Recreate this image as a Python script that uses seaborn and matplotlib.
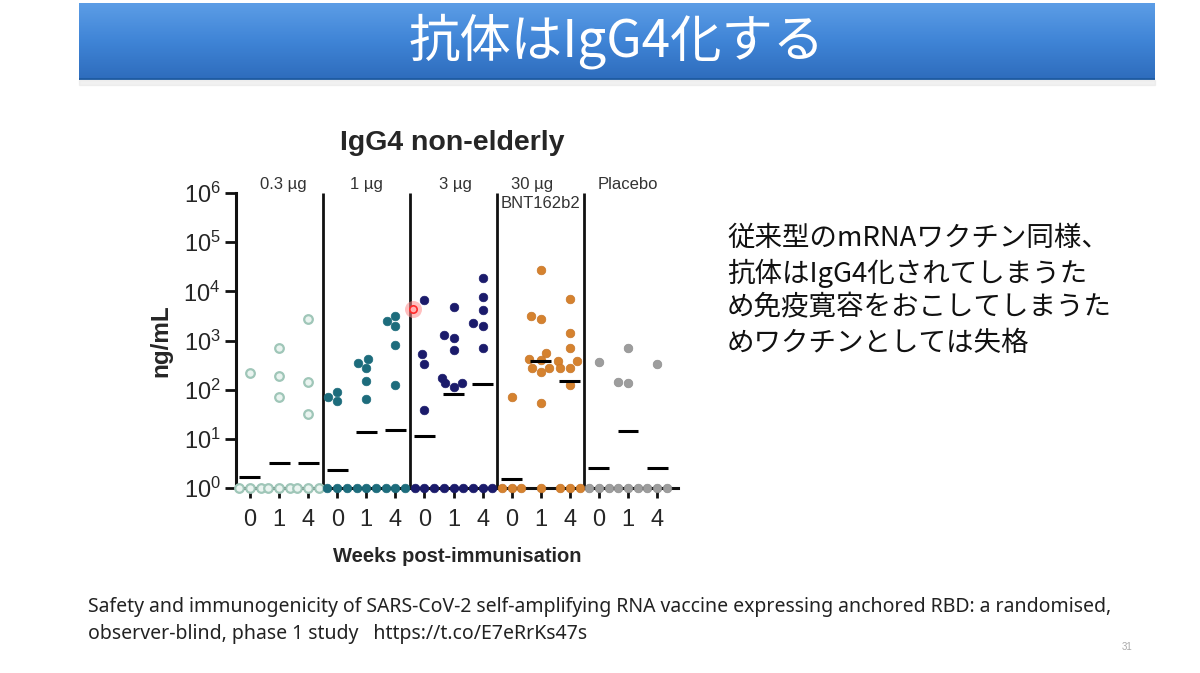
import numpy as np
import pandas as pd
import matplotlib
matplotlib.use('Agg')
import matplotlib.pyplot as plt
from matplotlib.colors import LinearSegmentedColormap
from matplotlib.patches import Rectangle
import seaborn as sns

# IgG4 values (ng/mL), one list per dose group and week
groups = ['0.3 µg', '1 µg', '3 µg', '30 µg', 'Placebo']
weeks = ['0', '1', '4']

g03_w0 = [215, 1, 1, 1]
g03_w1 = [720, 188, 70, 1, 1, 1]
g03_w4 = [2800, 140, 32, 1, 1, 1]
g1_w0 = [90, 70, 58, 1, 1, 1]
g1_w1 = [430, 350, 280, 150, 65, 1, 1, 1]
g1_w4 = [3100, 2450, 2000, 800, 125, 1, 1, 1]
g3_w0 = [6800, 520, 340, 38, 1, 1, 1]
g3_w1 = [4700, 1300, 1150, 630, 170, 135, 135, 112, 1, 1, 1]
g3_w4 = [19000, 7800, 4100, 2250, 1950, 720, 1, 1, 1]
g30_w0 = [70, 1, 1, 1]
g30_w1 = [27000, 3100, 2800, 570, 420, 400, 280, 280, 225, 53, 1]
g30_w4 = [7100, 1400, 690, 380, 380, 280, 280, 125, 1, 1, 1]
pl_w0 = [360, 1, 1, 1]
pl_w1 = [690, 140, 135, 1, 1, 1]
pl_w4 = [340, 1, 1, 1]

# summary bars (black dashes) per group, weeks 0/1/4
med_g03 = [1.7, 3.2, 3.2]
med_g1 = [2.3, 13.6, 15]
med_g3 = [11.3, 80, 130]
med_g30 = [1.5, 380, 148]
med_pl = [2.55, 14.4, 2.55]

# laser pointer spot visible on the slide
pointer_x = 5.6
pointer_y = 4300

group_values = {
    '0.3 µg': [g03_w0, g03_w1, g03_w4],
    '1 µg': [g1_w0, g1_w1, g1_w4],
    '3 µg': [g3_w0, g3_w1, g3_w4],
    '30 µg': [g30_w0, g30_w1, g30_w4],
    'Placebo': [pl_w0, pl_w1, pl_w4],
}
group_medians = [med_g03, med_g1, med_g3, med_g30, med_pl]

styles = {
    '0.3 µg': dict(color='#eaf4f0', edgecolor='#9fc6b8', linewidth=1.6),
    '1 µg': dict(color='#1d6c7c', edgecolor='#1d6c7c', linewidth=0.5),
    '3 µg': dict(color='#1b1b6b', edgecolor='#1b1b6b', linewidth=0.5),
    '30 µg': dict(color='#d5822f', edgecolor='#c8772a', linewidth=0.5),
    'Placebo': dict(color='#9d9d9d', edgecolor='#8f8f8f', linewidth=0.5),
}

rows = []
for g in groups:
    for w, vals in zip(weeks, group_values[g]):
        for v in vals:
            rows.append({'group': g, 'cat': f'{g}|{w}', 'value': v})
df = pd.DataFrame(rows)
order = [f'{g}|{w}' for g in groups for w in weeks]

sns.set_style('ticks')
plt.rcParams['font.family'] = ['Liberation Sans', 'Noto Sans CJK JP']
plt.rcParams['mathtext.fontset'] = 'custom'
plt.rcParams['mathtext.rm'] = 'Liberation Sans'
plt.rcParams['mathtext.it'] = 'Liberation Sans:italic'
plt.rcParams['mathtext.bf'] = 'Liberation Sans:bold'

fig = plt.figure(figsize=(12, 6.73), dpi=100)

# blue title banner
bar = fig.add_axes([79 / 1200, 1 - 80 / 673, 1076 / 1200, 77 / 673])
cmap = LinearSegmentedColormap.from_list('banner', ['#5c9de6', '#3f84d6', '#2e6cbc'])
bar.imshow(np.linspace(0, 1, 100).reshape(-1, 1), aspect='auto', cmap=cmap,
           extent=[0, 1, 0, 1])
bar.axhline(0.01, color='#1d5aa0', lw=2)
bar.set_axis_off()
bar.text(0.5, 0.5, '抗体はIgG4化する', ha='center', va='center', color='white',
         fontsize=37, family=['Noto Sans CJK JP', 'DejaVu Sans'])
fig.patches.append(Rectangle((79 / 1200, 1 - 85 / 673), 1076 / 1200, 5 / 673,
                             transform=fig.transFigure, color='#e4e4e4', alpha=0.5,
                             zorder=0))

# main scatter panel
ax = fig.add_axes([236 / 1200, 1 - 488 / 673, 442 / 1200, 295 / 673])
for g in groups:
    sub = df[df['group'] == g]
    sns.swarmplot(data=sub, x='cat', y='value', order=order, ax=ax,
                  log_scale=(False, True), size=6.2, zorder=3, **styles[g])

for c in ax.collections:
    c.set_clip_on(False)

for j, meds in enumerate(group_medians):
    for k, m in enumerate(meds):
        i = 3 * j + k
        ax.hlines(m, i - 0.36, i + 0.36, color='black', lw=2.2, zorder=4)

ax.vlines([2.5, 5.5, 8.5, 11.5], 1, 1e6, color='#111111', lw=2, zorder=2)

ax.scatter([pointer_x], [pointer_y], s=150, color='#ff8c8c', alpha=0.55,
           zorder=5, clip_on=False, linewidth=0)
ax.scatter([pointer_x], [pointer_y], s=28, facecolor='#ffb0b0', edgecolor='#ff2a2a',
           linewidth=1.2, zorder=6, clip_on=False)

ax.set_yscale('log')
ax.set_ylim(1, 1e6)
ax.set_xlim(-0.48, 14.72)
ax.set_yticks([10.0 ** p for p in range(7)])
ax.yaxis.set_minor_locator(matplotlib.ticker.NullLocator())
ax.set_xticks(range(len(order)))
ax.set_xticklabels(weeks * len(groups))
ax.tick_params(axis='x', length=7, width=2, labelsize=17, pad=8, color='#111111')
ax.tick_params(axis='y', length=8, width=2, labelsize=17, pad=3, color='#111111')
for s in ['top', 'right']:
    ax.spines[s].set_visible(False)
for s in ['left', 'bottom']:
    ax.spines[s].set_linewidth(2.2)
    ax.spines[s].set_color('#111111')

ax.set_xlabel('Weeks post-immunisation', fontsize=14.5, fontweight='bold', labelpad=12)
ax.set_ylabel('ng/mL', fontsize=17.5, fontweight='bold', labelpad=8)

trans = matplotlib.transforms.blended_transform_factory(ax.transData, ax.transAxes)
label_x = [1.15, 4, 7.05, 9.7, 13]
for g, x in zip(groups, label_x):
    ax.text(x, 1.028, g, transform=trans, ha='center', va='center', fontsize=12,
            color='#333333')
ax.text(10, 0.966, 'BNT162b2', transform=trans, ha='center', va='center',
        fontsize=12, color='#333333')

fig.text(452 / 1200, 1 - 143 / 673, 'IgG4 non-elderly', ha='center', va='center',
         fontsize=20.5, fontweight='bold')

# explanatory text on the right
note_lines = ['従来型のmRNAワクチン同様、', '抗体はIgG4化されてしまうた',
              'め免疫寛容をおこしてしまうた', 'めワクチンとしては失格']
for n, line in enumerate(note_lines):
    fig.text(727 / 1200, 1 - (238 + 35 * n) / 673, line, ha='left', va='center',
             fontsize=19.8, color='#111111', family=['Noto Sans CJK JP', 'DejaVu Sans'])

cite_lines = ['Safety and immunogenicity of SARS-CoV-2 self-amplifying RNA vaccine '
              'expressing anchored RBD: a randomised,',
              'observer-blind, phase 1 study   https://t.co/E7eRrKs47s']
for n, line in enumerate(cite_lines):
    fig.text(88 / 1200, 1 - (607 + 27 * n) / 673, line, ha='left', va='center',
             fontsize=14, color='#222222', family=['Noto Sans', 'DejaVu Sans'])

fig.text(1127 / 1200, 1 - 647 / 673, '31', ha='center', va='center', fontsize=7,
         color='#aaaaaa')

fig.savefig('out.png', dpi=100)
plt.close(fig)
